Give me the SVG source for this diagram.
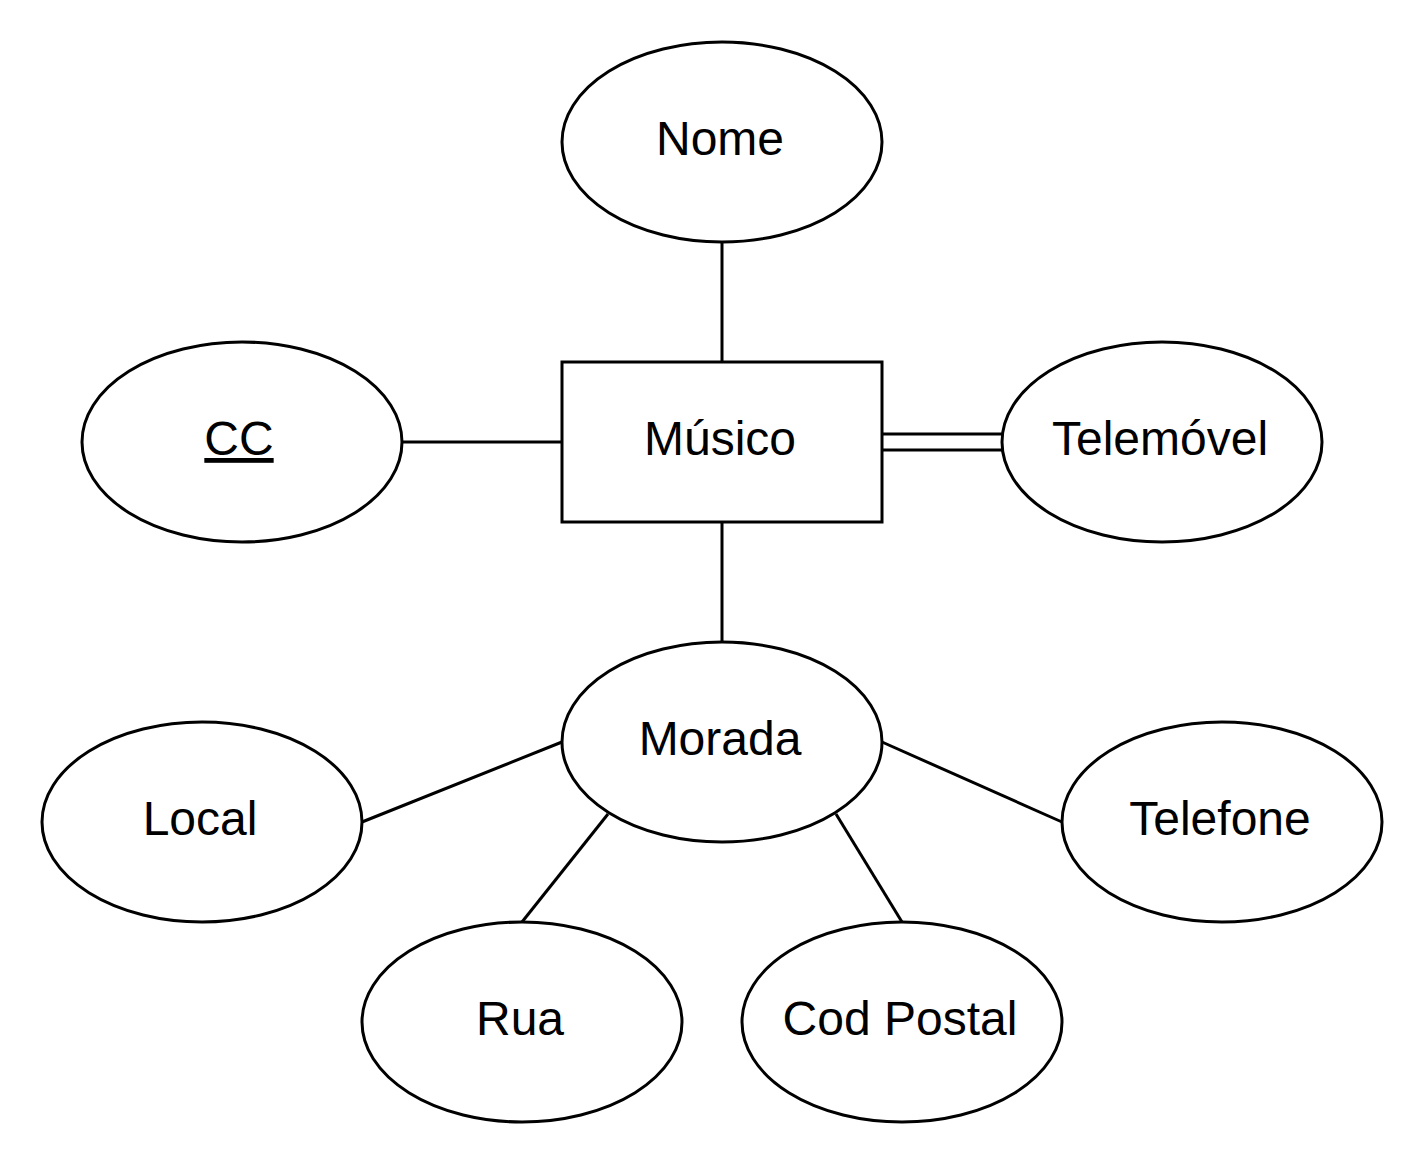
<svg xmlns="http://www.w3.org/2000/svg" width="1428" height="1164" viewBox="0 0 1428 1164">
<style>
.s{fill:#fff;stroke:#000;stroke-width:3}
.c{fill:none;stroke:#000;stroke-width:3}
text{font-family:"Liberation Sans",Arial,sans-serif;font-size:48px;fill:#000;text-anchor:middle}
</style>
<rect width="1428" height="1164" fill="#fff"/>
<g id="connectors">
<line class="c" x1="722" y1="242" x2="722" y2="362"/>
<line class="c" x1="402" y1="442" x2="562" y2="442"/>
<line class="c" x1="882" y1="434" x2="1002" y2="434"/>
<line class="c" x1="882" y1="450" x2="1002" y2="450"/>
<line class="c" x1="722" y1="522" x2="722" y2="642"/>
<line class="c" x1="362" y1="822" x2="562" y2="742"/>
<line class="c" x1="882" y1="742" x2="1062" y2="822"/>
<line class="c" x1="522" y1="922" x2="608" y2="814"/>
<line class="c" x1="902" y1="922" x2="836" y2="814"/>
</g>
<g id="musico"><rect class="s" x="562" y="362" width="320" height="160"/><text x="720" y="455">Músico</text></g>
<g id="nome"><ellipse class="s" cx="722" cy="142" rx="160" ry="100"/><text x="720" y="155">Nome</text></g>
<g id="cc"><ellipse class="s" cx="242" cy="442" rx="160" ry="100"/><text x="239" y="455" text-decoration="underline">CC</text></g>
<g id="telemovel"><ellipse class="s" cx="1162" cy="442" rx="160" ry="100"/><text x="1160" y="455">Telemóvel</text></g>
<g id="morada"><ellipse class="s" cx="722" cy="742" rx="160" ry="100"/><text x="720" y="755">Morada</text></g>
<g id="local"><ellipse class="s" cx="202" cy="822" rx="160" ry="100"/><text x="200" y="835">Local</text></g>
<g id="telefone"><ellipse class="s" cx="1222" cy="822" rx="160" ry="100"/><text x="1220" y="835">Telefone</text></g>
<g id="rua"><ellipse class="s" cx="522" cy="1022" rx="160" ry="100"/><text x="520" y="1035">Rua</text></g>
<g id="codpostal"><ellipse class="s" cx="902" cy="1022" rx="160" ry="100"/><text x="900" y="1035">Cod Postal</text></g>
</svg>
